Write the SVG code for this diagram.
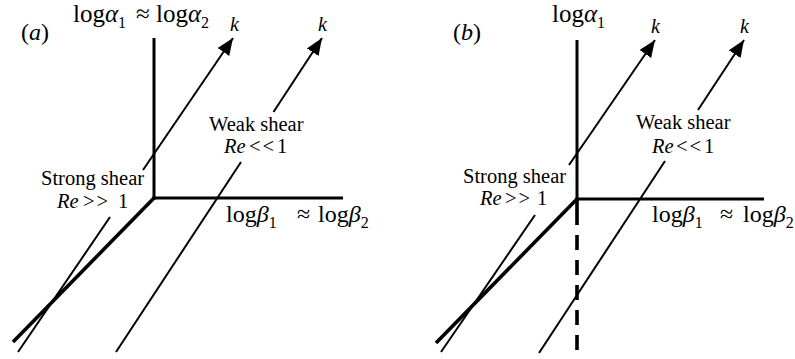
<svg xmlns="http://www.w3.org/2000/svg" width="795" height="359" viewBox="0 0 795 359">
<style>
text{font-family:"Liberation Serif","Times New Roman",serif;fill:#000}
.lbl{font-size:20.5px}
.par{font-size:24px}
.big{font-size:25px}
.bb{font-size:24px}
.sub{font-size:16px}
.it{font-style:italic}
.k{font-size:20px;font-style:italic}
.ls{letter-spacing:2px}
.axis{stroke:#000;stroke-width:3;fill:none;stroke-linecap:butt}
.diag{stroke:#000;stroke-width:3.6;fill:none}
.kl{stroke:#000;stroke-width:2;fill:none}
.arr{marker-end:url(#ah)}
.dash{stroke:#000;stroke-width:3.6;fill:none;stroke-dasharray:26 10 15 10 15 10 15 10 15 10 15 10 15 10}
</style>
<defs>
<marker id="ah" markerUnits="userSpaceOnUse" orient="auto" markerWidth="20" markerHeight="16" refX="17" refY="7" viewBox="0 0 20 14">
<path d="M0,0 L17,7 L0,14 Z" fill="#000"/>
</marker>
</defs>
<rect width="795" height="359" fill="#fff"/>

<g id="panel-a">
  <g id="a-axes">
    <line class="axis" x1="154" y1="38" x2="154" y2="199.5"/>
    <line class="axis" x1="152.5" y1="198" x2="343" y2="198"/>
    <line class="diag" x1="154" y1="198" x2="13" y2="342"/>
  </g>
  <g id="a-connectors">
    <line class="kl" x1="18" y1="352" x2="110" y2="217"/>
    <line class="kl arr" x1="143" y1="170" x2="233" y2="38"/>
    <line class="kl" x1="116" y1="352" x2="241" y2="162"/>
    <line class="kl arr" x1="273.5" y1="112" x2="322" y2="38"/>
  </g>
  <g id="a-labels">
    <text class="par" x="21" y="40">(<tspan class="it">a</tspan>)</text>
    <text class="big" x="73" y="22">log<tspan class="it">α</tspan><tspan class="sub" dy="6">1</tspan></text>
    <text class="big" x="136" y="22">≈</text>
    <text class="big" x="156" y="22">log<tspan class="it">α</tspan><tspan class="sub" dy="6">2</tspan></text>
    <text class="k" x="230" y="31">k</text>
    <text class="k" x="318" y="31">k</text>
    <text class="lbl" x="209" y="131">Weak shear</text>
    <text class="lbl" y="153"><tspan class="it" x="224">Re</tspan><tspan class="ls" x="249">&lt;&lt;</tspan><tspan x="277">1</tspan></text>
    <text class="lbl" x="41" y="185">Strong shear</text>
    <text class="lbl" y="208"><tspan class="it" x="57">Re</tspan><tspan class="ls" x="83">&gt;&gt;</tspan><tspan x="118">1</tspan></text>
    <text class="bb" x="226" y="222">log<tspan class="it">β</tspan><tspan class="sub" dy="6">1</tspan></text>
    <text class="bb" x="297" y="222">≈</text>
    <text class="bb" x="318" y="222">log<tspan class="it">β</tspan><tspan class="sub" dy="6">2</tspan></text>
  </g>
</g>

<g id="panel-b">
  <g id="b-axes">
    <line class="axis" x1="577" y1="40" x2="577" y2="200.5"/>
    <line class="axis" x1="575.5" y1="199" x2="764" y2="199"/>
    <line class="diag" x1="577" y1="199" x2="436" y2="343"/>
    <line class="dash" x1="577" y1="199" x2="577" y2="359"/>
  </g>
  <g id="b-connectors">
    <line class="kl" x1="441" y1="352" x2="535" y2="215"/>
    <line class="kl arr" x1="569" y1="165" x2="655" y2="40"/>
    <line class="kl" x1="539" y1="353" x2="665" y2="161"/>
    <line class="kl arr" x1="698" y1="110" x2="744" y2="40"/>
  </g>
  <g id="b-labels">
    <text class="par" x="453" y="40">(<tspan class="it">b</tspan>)</text>
    <text class="big" x="552" y="22">log<tspan class="it">α</tspan><tspan class="sub" dy="6">1</tspan></text>
    <text class="k" x="651" y="33">k</text>
    <text class="k" x="740" y="33">k</text>
    <text class="lbl" x="636" y="129">Weak shear</text>
    <text class="lbl" y="152.5"><tspan class="it" x="652">Re</tspan><tspan class="ls" x="676">&lt;&lt;</tspan><tspan x="704">1</tspan></text>
    <text class="lbl" x="463" y="183">Strong shear</text>
    <text class="lbl" y="205"><tspan class="it" x="480">Re</tspan><tspan class="ls" x="505">&gt;&gt;</tspan><tspan x="537">1</tspan></text>
    <text class="bb" x="652" y="222">log<tspan class="it">β</tspan><tspan class="sub" dy="6">1</tspan></text>
    <text class="bb" x="720" y="222">≈</text>
    <text class="bb" x="743" y="222">log<tspan class="it">β</tspan><tspan class="sub" dy="6">2</tspan></text>
  </g>
</g>
</svg>
